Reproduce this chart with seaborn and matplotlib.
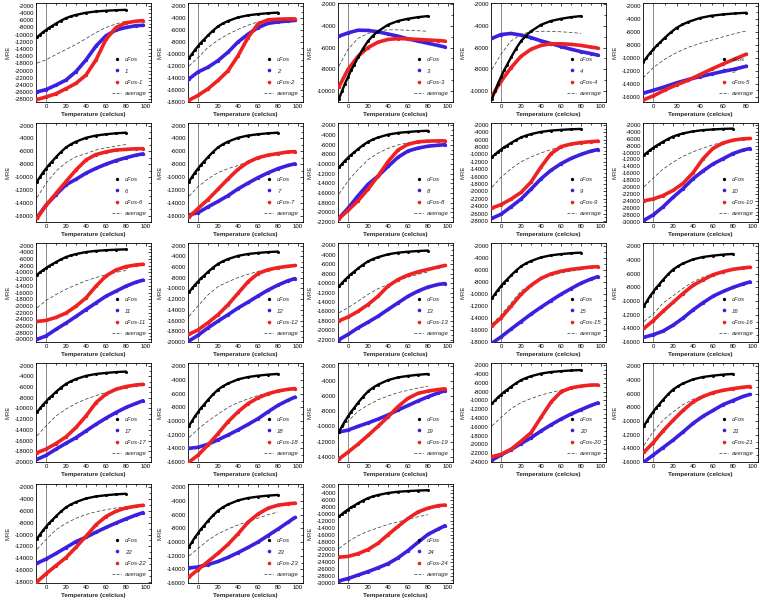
import matplotlib
matplotlib.use("Agg")
import matplotlib.pyplot as plt
import seaborn as sns
from matplotlib.lines import Line2D
from matplotlib.ticker import MultipleLocator, FuncFormatter

sns.set_theme(style="white")
plt.rcParams["font.family"] = ["Liberation Sans", "DejaVu Sans"]
plt.rcParams["axes.unicode_minus"] = False

# ---------------- data ----------------
TEMP_CFOS = [-9, -6, -3, 0, 3, 6, 10, 15, 20, 25, 30, 40, 50, 60, 70, 80]
MRE_CFOS = [-10700, -10000, -9300, -8700, -8100, -7600, -6900, -6100, -5400,
            -4900, -4500, -3900, -3550, -3350, -3200, -3100]
TEMP = [-9, 0, 10, 20, 30, 40, 50, 60, 70, 80, 90, 97]
TEMP_SHORT = [-9, 0, 10, 20, 30, 40, 50, 60, 70, 80]
TEMP_AVG = [-9, 0, 10, 20, 30, 40, 50, 60, 70, 80]

LABELS = ["1", "2", "3", "4", "5", "6", "7", "8", "9", "10", "11", "12", "13",
          "15", "16", "17", "18", "19", "20", "21", "22", "23", "24"]

N1 = [-25900, -25250, -24000, -22600, -20250, -17000, -13150, -10300, -8700, -8000, -7500, -7400]
F1 = [-28000, -27300, -26400, -25000, -23500, -21200, -17000, -11300, -8000, -6700, -6250, -6100]
A1 = [-17900, -17000, -15500, -14100, -12700, -11100, -9400, -8000, -7000, -6250]

N2 = [-14150, -13000, -12200, -11100, -9700, -8000, -6700, -5600, -4900, -4650, -4500, -4400]
F2 = [-17700, -16900, -15800, -14400, -12800, -10300, -7250, -5000, -4300, -4200, -4150, -4150]
A2 = [-12000, -10600, -8900, -7700, -6700, -5900, -5200, -4650, -4300, -4100]

N3 = [-4950, -4650, -4400, -4420, -4550, -4750, -4950, -5200, -5400, -5600, -5800, -5950]
F3 = [-9600, -8000, -6800, -6000, -5500, -5250, -5170, -5200, -5250, -5300, -5350, -5400]
A3 = [-7700, -6150, -5150, -4700, -4450, -4370, -4370, -4400, -4450, -4500]

N4 = [-5150, -4800, -4700, -4850, -5080, -5380, -5630, -5900, -6150, -6370, -6550, -6700]
F4 = [-10450, -9100, -7850, -6800, -6150, -5800, -5650, -5650, -5700, -5800, -5950, -6050]
A4 = [-8000, -6600, -5400, -4770, -4550, -4500, -4500, -4550, -4600, -4700]

N5 = [-15450, -15000, -14450, -13850, -13350, -12900, -12500, -12100, -11750, -11300]
F5 = [-16500, -15850, -14950, -14150, -13450, -12600, -11750, -10950, -10200, -9450]
A5 = [-13100, -11500, -10200, -9200, -8400, -7800, -7300, -6800, -6300, -5900]

N6 = [-16300, -14400, -12750, -11200, -10350, -9400, -8650, -8000, -7450, -7000, -6600, -6400]
F6 = [-16450, -14400, -12550, -10700, -8900, -7350, -6500, -6100, -5800, -5700, -5600, -5600]
A6 = [-13200, -11000, -9100, -7750, -6850, -6350, -5800, -5450, -5200, -4950]

N7 = [-15900, -15550, -14650, -13800, -12900, -11850, -10950, -10100, -9350, -8700, -8200, -7950]
F7 = [-16250, -14900, -13500, -11900, -10300, -8800, -7700, -7000, -6600, -6350, -6100, -6050]
A7 = [-13000, -11500, -10300, -9300, -8700, -8200, -7600, -7000, -6600, -6300]

N8 = [-21200, -19150, -16600, -14200, -12500, -10500, -8600, -7300, -6700, -6300, -6100, -6000]
F8 = [-21300, -19600, -17600, -15200, -12500, -9500, -7100, -5900, -5400, -5250, -5200, -5200]
A8 = [-16200, -13500, -11150, -9100, -7750, -6750, -6050, -5600, -5250, -5050]

N9 = [-27300, -26200, -24200, -22100, -19400, -16600, -14300, -12500, -11100, -10000, -9100, -8700]
F9 = [-24500, -23600, -22100, -20300, -17500, -13400, -9800, -7900, -7200, -6800, -6550, -6400]
A9 = [-18900, -16200, -13900, -12000, -10700, -9600, -8700, -7900, -7500, -7000]

N10 = [-29500, -28000, -25650, -22900, -20400, -17550, -15300, -13300, -11800, -10300, -9300, -8850]
F10 = [-23900, -23400, -22400, -20900, -18900, -15850, -11800, -8800, -7250, -6450, -6050, -5950]
A10 = [-19900, -17400, -14800, -12800, -11100, -9800, -8750, -7750, -7050, -6450]

N11 = [-30000, -29000, -27000, -25150, -23150, -21100, -19100, -17100, -15600, -14100, -12900, -12300]
F11 = [-24650, -24350, -23450, -22150, -20100, -17600, -14100, -11050, -9250, -8250, -7750, -7550]
A11 = [-20600, -18400, -16600, -15000, -13700, -12500, -11500, -10700, -10000, -9400]

N12 = [-19800, -18750, -17350, -16100, -14900, -13650, -12550, -11400, -10300, -9350, -8550, -8150]
F12 = [-18550, -17750, -16400, -14900, -13050, -10900, -8750, -7200, -6500, -6100, -5850, -5700]
A12 = [-15200, -13250, -11200, -9650, -8750, -7950, -7350, -6800, -6400, -6100]

N13 = [-22000, -20900, -19500, -18300, -17050, -15600, -14200, -12800, -11700, -10850, -10300, -10100]
F13 = [-18000, -17200, -16000, -14550, -12800, -10650, -9250, -8300, -7600, -7100, -6600, -6250]
A13 = [-16300, -15250, -13850, -12400, -11200, -10300, -9450, -8750, -8150, -7650]

N15 = [-18200, -17150, -15850, -14600, -13350, -12200, -11100, -10050, -9100, -8200, -7500, -7100]
F15 = [-15300, -14000, -12050, -10050, -8550, -7400, -6650, -6200, -5900, -5700, -5500, -5450]
A15 = [-15000, -13500, -11500, -9500, -8350, -7500, -6950, -6500, -6200, -5950]

N16 = [-15300, -14950, -14400, -13550, -12500, -11300, -10250, -9300, -8600, -8000, -7500, -7200]
F16 = [-14000, -12900, -11500, -10200, -8900, -7700, -6900, -6150, -5700, -5350, -5150, -5050]
A16 = [-13000, -11950, -10300, -9250, -8150, -7200, -6500, -6000, -5700, -5450]

N17 = [-19500, -18750, -17600, -16500, -15450, -14200, -12950, -11800, -10750, -9800, -9050, -8550]
F17 = [-18250, -17600, -16550, -15300, -13550, -11400, -8900, -7300, -6400, -5900, -5600, -5500]
A17 = [-15100, -13250, -11400, -10100, -9050, -8250, -7600, -7000, -6550, -6200]

N18 = [-14000, -13850, -13400, -12750, -12050, -11300, -10500, -9650, -8650, -7700, -6950, -6500]
F18 = [-16000, -15000, -13500, -11850, -10100, -8650, -7450, -6600, -6000, -5600, -5350, -5250]
A18 = [-12400, -11200, -10000, -9000, -8000, -7300, -6750, -6250, -5900, -5600]

N19 = [-10750, -10500, -10000, -9550, -9050, -8500, -7850, -7250, -6650, -6100, -5600, -5300]
F19 = [-14300, -13400, -12350, -11200, -10000, -8750, -7400, -6300, -5650, -5350, -5150, -5050]
A19 = [-10600, -9350, -8000, -7200, -6500, -6000, -5550, -5250, -4950, -4700]

N20 = [-23550, -22400, -21200, -19800, -18500, -16950, -15550, -14250, -13100, -12100, -11150, -10550]
F20 = [-22800, -22250, -21100, -19300, -17350, -13850, -10400, -8050, -7150, -6750, -6500, -6500]
A20 = [-15800, -13850, -11900, -10500, -9600, -8800, -8200, -7650, -7100, -6750]

N21 = [-16000, -15000, -13900, -12800, -11600, -10350, -9300, -8450, -7600, -7000, -6400, -6100]
F21 = [-14550, -13200, -11450, -9900, -8450, -7200, -6400, -5850, -5500, -5250, -5050, -4950]
A21 = [-13550, -11600, -9900, -8650, -7600, -6800, -6250, -5800, -5500, -5250]

N22 = [-14850, -14150, -13200, -12200, -11200, -10450, -9600, -8800, -8050, -7350, -6700, -6300]
F22 = [-18000, -16650, -15250, -13900, -12150, -10300, -8350, -6950, -6050, -5500, -5200, -5050]
A22 = [-12500, -10850, -9200, -8100, -7250, -6600, -6150, -5800, -5500, -5300]

N23 = [-13800, -13650, -13300, -12850, -12250, -11550, -10800, -10000, -9050, -8100, -7100, -6400]
F23 = [-15100, -14050, -12850, -11650, -10350, -8800, -7100, -5900, -5050, -4600, -4400, -4300]
A23 = [-12050, -10950, -9750, -8800, -8100, -7500, -7000, -6500, -6000, -5600]

N24 = [-29400, -28700, -27700, -26700, -25600, -24400, -22700, -20600, -18200, -15900, -14400, -13400]
F24 = [-22500, -22300, -21500, -20300, -18500, -16000, -13600, -11300, -9400, -8300, -7600, -7400]
A24 = [-20000, -18000, -16300, -15000, -14000, -13000, -12300, -11500, -10800, -10200]

N_SERIES = [N1, N2, N3, N4, N5, N6, N7, N8, N9, N10, N11, N12, N13, N15, N16,
            N17, N18, N19, N20, N21, N22, N23, N24]
F_SERIES = [F1, F2, F3, F4, F5, F6, F7, F8, F9, F10, F11, F12, F13, F15, F16,
            F17, F18, F19, F20, F21, F22, F23, F24]
A_SERIES = [A1, A2, A3, A4, A5, A6, A7, A8, A9, A10, A11, A12, A13, A15, A16,
            A17, A18, A19, A20, A21, A22, A23, A24]

# y-axis ranges (bottom, top)
Y_RANGES = [(-28700, -1200), (-18000, -1500), (-11000, -1900), (-11000, -1900),
            (-16800, -1600), (-17000, -1600), (-17000, -1600), (-22000, -1500),
            (-28300, -1500), (-30000, -1500), (-30800, -1200), (-20000, -1500),
            (-22500, -1500), (-18000, -1500), (-16000, -1500), (-20000, -1500),
            (-16000, -1500), (-14700, -1650), (-24000, -1500), (-16000, -1500),
            (-18200, -1450), (-16000, -1500), (-30000, -1300)]

# ---------------- layout / style ----------------
W, H = 764, 605
COL_LEFT = [36, 188, 338, 491, 643]
ROW_TOP = [3, 123, 243, 363, 484]
AX_W, AX_H = 115, 99
BLUE = "#3b20e0"
RED = "#ee2222"
FS = 4.3

fig = plt.figure(figsize=(W / 100, H / 100), dpi=100)
fig.patch.set_facecolor("white")

for i, lab in enumerate(LABELS):
    r, c = divmod(i, 5)
    ax = fig.add_axes([COL_LEFT[c] / W, 1 - (ROW_TOP[r] + AX_H) / H, AX_W / W, AX_H / H])
    ax.set_facecolor("white")
    short = (lab == "5")
    tx = TEMP_SHORT if short else TEMP

    ax.axvline(0, color="#777777", lw=0.6, zorder=1)
    sns.lineplot(x=TEMP_AVG, y=A_SERIES[i], ax=ax, color="#333333", lw=0.5,
                 linestyle=(0, (5, 3)), zorder=2)
    sns.lineplot(x=tx, y=N_SERIES[i], ax=ax, color=BLUE, lw=2.6, marker="o",
                 markersize=2.4, markeredgewidth=0, zorder=3)
    sns.lineplot(x=tx, y=F_SERIES[i], ax=ax, color=RED, lw=2.6, marker="o",
                 markersize=2.4, markeredgewidth=0, zorder=4)
    sns.lineplot(x=TEMP_CFOS, y=MRE_CFOS, ax=ax, color="black", lw=1.7, marker="o",
                 markersize=2.2, markeredgewidth=0, zorder=5)

    if short:
        ax.set_xlim(-9, 90)
        ax.set_xticks([0, 20, 40, 60, 80])
    else:
        ax.set_xlim(-10, 105)
        ax.set_xticks([0, 20, 40, 60, 80, 100])
    ax.set_ylim(*Y_RANGES[i])
    ax.yaxis.set_major_locator(MultipleLocator(2000))
    ax.xaxis.set_minor_locator(MultipleLocator(10))
    ax.yaxis.set_minor_locator(MultipleLocator(1000))
    ax.yaxis.set_major_formatter(FuncFormatter(lambda v, p: f"{int(round(v))}"))
    ax.tick_params(which="both", direction="in", top=True, right=True,
                   width=0.5, colors="black", labelsize=FS, pad=1.5)
    ax.tick_params(which="major", length=2.2)
    ax.tick_params(which="minor", length=1.2)
    for s in ax.spines.values():
        s.set_linewidth(0.6)
        s.set_color("black")

    ax.set_xlabel("Temperature (celcius)", fontsize=FS + 0.2, fontweight="bold", labelpad=2)
    ax.set_ylabel("MRE", fontsize=FS, labelpad=3)

    handles = [
        Line2D([], [], color="black", marker="o", ls="none", ms=2.4, mew=0),
        Line2D([], [], color=BLUE, marker="o", ls="none", ms=2.6, mew=0),
        Line2D([], [], color=RED, marker="o", ls="none", ms=2.6, mew=0),
        Line2D([], [], color="#333333", ls=(0, (4, 2)), lw=0.5),
    ]
    ax.legend(handles, ["cFos", lab, "cFos-" + lab, "average"], loc="lower right",
              bbox_to_anchor=(1.0, 0.02), frameon=False,
              prop={"size": FS, "style": "italic"}, handlelength=1.6,
              handletextpad=0.6, labelspacing=1.0, borderaxespad=0.3)

fig.savefig("out.png", dpi=100, facecolor="white")
